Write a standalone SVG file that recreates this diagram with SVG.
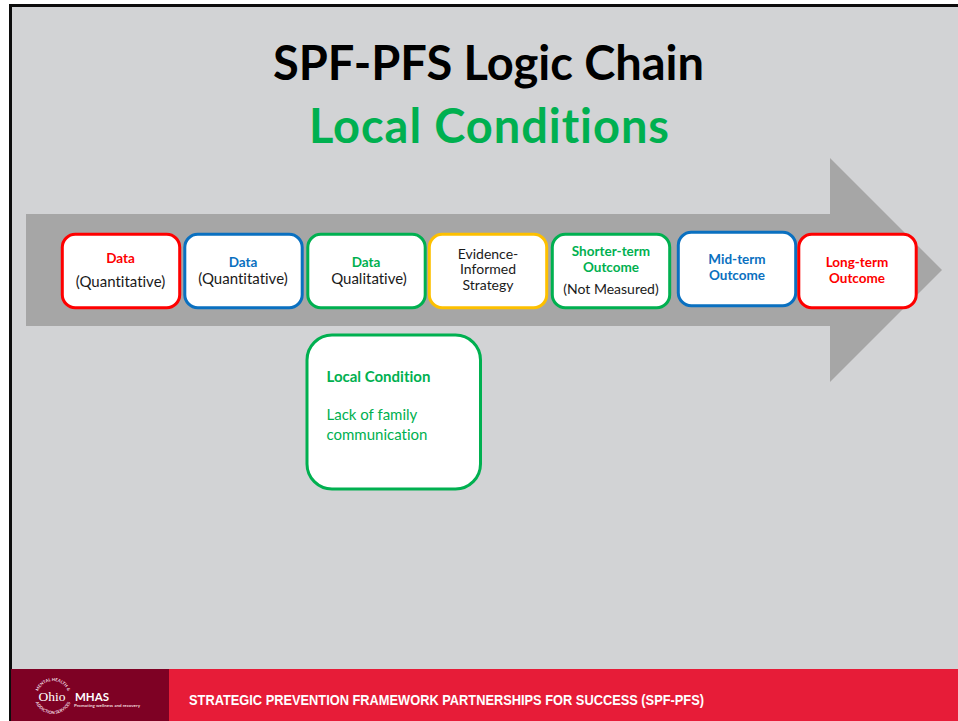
<svg xmlns="http://www.w3.org/2000/svg" width="958" height="721" viewBox="0 0 958 721">
<style>
text{font-family:Lato,"Open Sans",sans-serif;text-anchor:middle;font-variant-ligatures:none}
.n{fill:#fff;stroke-width:3}
.t{font-size:15px;fill:#1a1a1a}
.s{font-size:14px;fill:#1a1a1a}
.b{font-size:13.500px;font-weight:700}
.r{fill:#fe0000;stroke:#fe0000}
.bl{fill:#0a70c0;stroke:#0a70c0}
.g{fill:#00b050;stroke:#00b050}
.y{stroke:#fdc000}
text.r,text.bl,text.g{stroke:none}
rect.r,rect.bl,rect.g{fill:#fff}
.l{font-size:15px;text-anchor:start}
</style>
<defs>
<path id="ringTop" d="M37 697A16 16 0 0 1 69 697"/>
<path id="ringBottom" d="M34 695A19 19 0 0 0 72 695"/>
</defs>
<rect width="958" height="721" fill="#fff"/>
<rect x="10.500" y="5.500" width="949" height="720" fill="#d2d3d5" stroke="#0c0c0c" stroke-width="3"/>
<text x="488.500" y="80" font-size="47" font-weight="700" fill="#000" textLength="431">SPF-PFS Logic Chain</text>
<text x="489" y="143" font-size="47" font-weight="700" fill="#00b050" textLength="360">Local Conditions</text>
<polygon id="arrow" points="26,214 830,214 830,158 942,270 830,382 830,326 26,326" fill="#a6a6a6"/>
<g id="connectors"></g>
<g id="n1"><rect class="n r" x="62.300" y="234.300" width="117.400" height="73.400" rx="13"/><text class="b r" x="120.500" y="263">Data</text><text class="t" x="120.500" y="287">(Quantitative)</text></g>
<g id="n2"><rect class="n bl" x="184.800" y="234.300" width="117.400" height="73.400" rx="13"/><text class="b bl" x="243" y="267">Data</text><text class="t" x="243" y="284">(Quantitative)</text></g>
<g id="n3"><rect class="n g" x="307.800" y="234.300" width="117.400" height="73.400" rx="13"/><text class="b g" x="366" y="267">Data</text><text class="t" x="369" y="284">Qualitative)</text></g>
<g id="n4"><rect class="n y" x="429.300" y="234.300" width="117.400" height="73.400" rx="13"/><text class="s" x="488" y="259">Evidence-<tspan x="488" y="274">Informed</tspan><tspan x="488" y="290">Strategy</tspan></text></g>
<g id="n5"><rect class="n g" x="552.300" y="234.300" width="117.400" height="73.400" rx="13"/><text class="b g" x="611" y="256">Shorter-term<tspan x="611" y="272">Outcome</tspan></text><text class="s" x="611" y="294">(Not Measured)</text></g>
<g id="n6"><rect class="n bl" x="678.300" y="232.300" width="117.400" height="73.400" rx="13"/><text class="b bl" x="737" y="264">Mid-term<tspan x="737" y="280">Outcome</tspan></text></g>
<g id="n7"><rect class="n r" x="798.800" y="234.300" width="117.400" height="73.400" rx="13"/><text class="b r" x="857" y="267">Long-term<tspan x="857" y="283">Outcome</tspan></text></g>
<g id="n8"><rect class="n g" x="307" y="335" width="173.500" height="154" rx="25"/><text class="g l" x="326.500" y="382" font-weight="700">Local Condition</text><text class="g l" x="326.500" y="420">Lack of family</text><text class="g l" x="326.500" y="440">communication</text></g>
<g id="footer">
<rect x="11" y="669" width="947" height="52" fill="#e71c38"/>
<rect x="11" y="669" width="158" height="52" fill="#7e0124"/>
<text font-size="4.200" font-weight="700" fill="#f0dfe2"><textPath href="#ringTop" startOffset="50%">MENTAL HEALTH &amp;</textPath></text>
<text font-size="4.200" font-weight="700" fill="#f0dfe2"><textPath href="#ringBottom" startOffset="50%">ADDICTION SERVICES</textPath></text>
<text x="52" y="700.500" font-size="13.500" fill="#fff" style="font-family:'Liberation Serif',serif">Ohio</text>
<text x="75" y="700.500" font-size="11.500" font-weight="700" fill="#fff" style="text-anchor:start">MHAS</text>
<text x="74" y="707" font-size="4.500" font-weight="700" fill="#f0d8dc" style="text-anchor:start">Promoting wellness and recovery</text>
<text x="189" y="705" font-size="15.500" font-weight="700" fill="#fff" textLength="515" lengthAdjust="spacingAndGlyphs" style="text-anchor:start;font-family:'Liberation Sans',sans-serif">STRATEGIC PREVENTION FRAMEWORK PARTNERSHIPS FOR SUCCESS (SPF-PFS)</text>
</g>
</svg>
